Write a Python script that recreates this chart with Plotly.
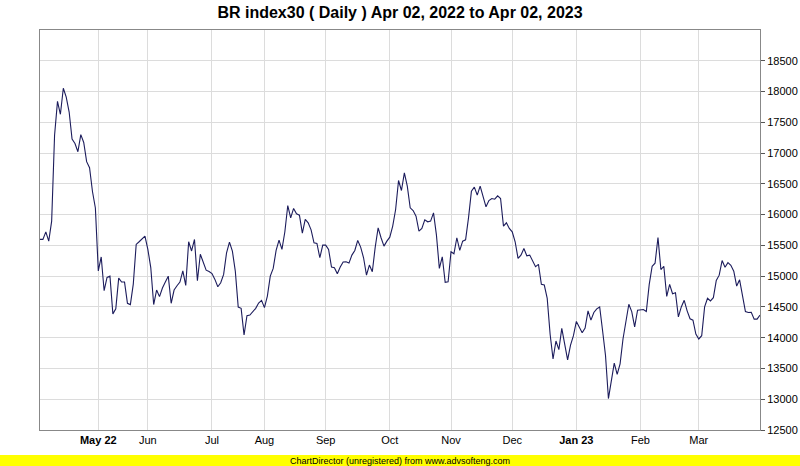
import plotly.graph_objects as go

# Daily closing values (trading-day sequence, Apr 2022 - Mar 2023)
values = [
    15597, 15597, 15720, 15570, 15893, 17290, 17840, 17630, 18054, 17910,
    17667, 17226, 17156, 17022, 17300, 17172, 16860, 16763, 16376, 16108,
    15086, 15312, 14764, 14979, 15000, 14387, 14468, 14968, 14904, 14904,
    14559, 14538, 14871, 15516, 15559, 15613, 15651, 15436, 15140, 14538,
    14774, 14667, 14807, 14904, 15000, 14559, 14774, 14844, 14904, 15086,
    14850, 15559, 15409, 15597, 14925, 15355, 15215, 15097, 15075, 15043,
    14947, 14828,
    14893, 15028, 15380, 15553, 15407, 15083, 14498, 14477, 14044, 14358,
    14368, 14423, 14477, 14563, 14607, 14488, 14677, 15001, 15126, 15418,
    15586, 15434, 15721, 16148, 15948, 16100, 16013, 15991, 15699, 15921,
    15867, 15753, 15542, 15532, 15299, 15505, 15505, 15434, 15148, 15137,
    15039, 15148, 15229, 15234, 15212, 15342, 15418, 15580, 15472, 15299,
    15018, 15180, 15071, 15472, 15786, 15624, 15488, 15569, 15634, 15813,
    16083, 16554, 16392, 16679, 16462, 16110, 16067, 15975, 15732, 15775,
    15916, 15883, 15894, 16029, 15667, 15126, 15315, 14899, 14910, 15396,
    15364, 15624, 15418, 15569, 15591, 15948, 16381, 16446, 16316, 16462,
    16300, 16127, 16229, 16262, 16251, 16305, 16262, 15813, 15867, 15775,
    15721, 15559, 15288, 15342, 15450, 15331, 15342, 15234, 15153, 15191,
    14866, 14855, 14639, 14055, 13654, 13946, 13806, 14152, 13919, 13638,
    13881,
    14032, 14264, 14177, 14081, 14156, 14436, 14285, 14409, 14468, 14500,
    14113, 13710, 13011, 13317, 13586, 13403, 13575, 13979, 14274, 14543,
    14425, 14177, 14446, 14446, 14457, 14425, 14866, 15161, 15210, 15629,
    15108, 15161, 14672, 14866, 14715, 14731, 14339, 14500, 14608, 14436,
    14307, 14285, 14059, 13979, 14032, 14500, 14640, 14597, 14651, 14930,
    15016, 15253, 15145, 15220, 15177, 15081, 14839, 14941, 14694, 14425,
    14409, 14414, 14301, 14301, 14366,
]

# Month-start positions (trading-day index) and labels
tick_idx = [20, 37, 59, 77, 98, 120, 141, 162, 184, 206, 226]
tick_labels = ["<b>May 22</b>", "Jun", "Jul", "Aug", "Sep", "Oct", "Nov", "Dec",
               "<b>Jan 23</b>", "Feb", "Mar"]

y_ticks = list(range(12500, 19000, 500))
y_labels = [str(v) for v in y_ticks]

idx = list(range(len(values)))

fig = go.Figure()
fig.add_trace(go.Scatter(
    x=idx, y=values, mode="lines",
    line=dict(color="#1c1c5c", width=1.1),
    hoverinfo="skip", showlegend=False,
))

fig.update_layout(
    width=800, height=466,
    margin=dict(l=40, r=40, t=30, b=36, autoexpand=False),
    paper_bgcolor="white", plot_bgcolor="white",
    font=dict(family="Liberation Sans, Arial, sans-serif", size=11, color="black"),
    title=dict(text="<b>BR index30 ( Daily ) Apr 02, 2022 to Apr 02, 2023</b>",
               x=0.5, xanchor="center", y=0.974, yanchor="middle",
               font=dict(size=16, family="Liberation Sans, Arial, sans-serif")),
    showlegend=False,
)

fig.update_xaxes(
    range=[0, len(values) - 1],
    tickvals=tick_idx, ticktext=tick_labels,
    showgrid=True, gridcolor="#dcdcdc", gridwidth=1,
    showline=True, linecolor="#888888", linewidth=1, mirror=True,
    ticks="", zeroline=False, automargin=False,
    tickfont=dict(size=11),
)
fig.update_yaxes(
    side="right",
    range=[12500, 19000],
    tickvals=y_ticks, ticktext=y_labels,
    showgrid=True, gridcolor="#dcdcdc", gridwidth=1,
    showline=True, linecolor="#888888", linewidth=1, mirror=True,
    ticks="outside", ticklen=4, tickcolor="#555555",
    zeroline=False, automargin=False,
    tickfont=dict(size=11),
)

# Yellow footer bar
fig.add_shape(type="rect", xref="paper", yref="paper",
              x0=-0.06, x1=1.06, y0=-0.092, y1=-0.0625,
              fillcolor="#ffff00", line=dict(width=0), layer="below")
fig.add_annotation(text="ChartDirector (unregistered) from www.advsofteng.com",
                   xref="paper", yref="paper", x=0.5, y=-0.0775,
                   xanchor="center", yanchor="middle", showarrow=False,
                   font=dict(size=9, color="black"))

fig.write_html("out.html",
               config={"displayModeBar": False},
               post_script="document.body.style.margin='0';document.body.style.overflow='hidden';")
